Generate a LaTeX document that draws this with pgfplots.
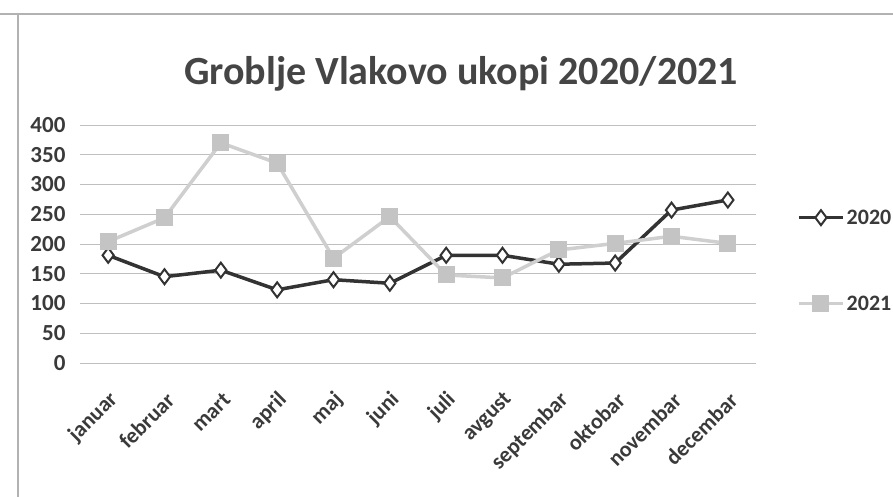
\documentclass[border=0pt]{standalone}
\usepackage{fontspec}
\setmainfont{Carlito}
\usepackage{pgfplots}
\pgfplotsset{compat=1.18}
\definecolor{txt}{HTML}{3A3A3A}
\definecolor{ttl}{HTML}{454545}
\definecolor{cA}{HTML}{333333}
\definecolor{cB}{HTML}{CFCFCF}
\definecolor{cBm}{HTML}{C4C4C4}
\begin{document}
\begin{tikzpicture}[x=1pt,y=1pt]
\useasboundingbox (0,0) rectangle (893,497);
\fill[white] (0,0) rectangle (893,497);
\draw[gray!60, line width=1.5pt] (0,483) -- (893,483);
\draw[gray!60, line width=1.5pt] (18,0) -- (18,483);
\node[anchor=base, font=\fontsize{40}{44}\selectfont\bfseries, text=ttl] at (461,412) {Groblje Vlakovo ukopi 2020/2021};
\begin{axis}[
  at={(80pt,134pt)}, anchor=south west,
  scale only axis, width=676pt, height=238pt,
  xmin=-0.5, xmax=11.5, ymin=0, ymax=400,
  ytick={0,50,...,400},
  xtick={0,...,11},
  xticklabels={januar,februar,mart,april,maj,juni,juli,avgust,septembar,oktobar,novembar,decembar},
  ymajorgrids, grid style={gray!50, line width=0.8pt},
  axis line style={draw=none},
  major tick length=0pt,
  /pgf/number format/assume math mode=true,
  tick label style={font=\fontsize{23}{26}\selectfont\bfseries, text=txt},
  xticklabel style={rotate=45, anchor=east, xshift=-16pt, yshift=-28pt, font=\fontsize{22}{25}\selectfont\bfseries},
  yticklabel style={xshift=-11pt},
  clip=false,
  legend cell align=left,
  legend style={at={(1,0.43)}, anchor=west, xshift=38pt, draw=none, fill=none,
    row sep=66pt, font=\fontsize{22}{25}\selectfont\bfseries, text=txt},
  legend image code/.code={\draw[#1, mark repeat=2, mark phase=2] plot coordinates {(0pt,0pt) (22pt,0pt) (44pt,0pt)};},
]
\addplot[color=cA, line width=3.5pt, mark=diamond*, mark size=7.5pt,
  mark options={fill=white, draw=cA, line width=2pt}]
  coordinates {(0,181) (1,145) (2,156) (3,123) (4,140) (5,134) (6,181) (7,181) (8,166) (9,168) (10,257) (11,274)};
\addlegendentry{2020}
\addplot[color=cB, line width=3.5pt, mark=square*, mark size=8pt,
  mark options={fill=cBm, draw=cBm, line width=0pt}]
  coordinates {(0,204) (1,244) (2,370) (3,336) (4,176) (5,246) (6,148) (7,143) (8,190) (9,201) (10,213) (11,201)};
\addlegendentry{2021}
\end{axis}
\end{tikzpicture}
\end{document}
